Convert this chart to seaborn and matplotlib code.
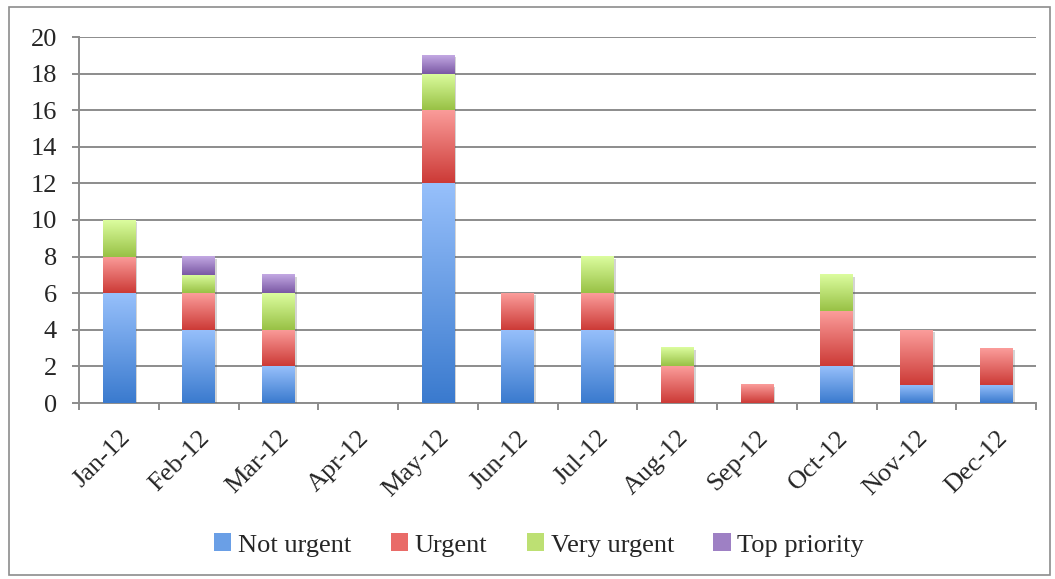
import numpy as np
import pandas as pd
import matplotlib
matplotlib.use("Agg")
import matplotlib.pyplot as plt
import seaborn as sns
from matplotlib.colors import LinearSegmentedColormap
from matplotlib.patches import Rectangle, Patch
import matplotlib.patheffects as pe

months = ["Jan-12", "Feb-12", "Mar-12", "Apr-12", "May-12", "Jun-12",
          "Jul-12", "Aug-12", "Sep-12", "Oct-12", "Nov-12", "Dec-12"]
not_urgent = [6, 4, 2, 0, 12, 4, 4, 0, 0, 2, 1, 1]
urgent = [2, 2, 2, 0, 4, 2, 2, 2, 1, 3, 3, 2]
very_urgent = [2, 1, 2, 0, 2, 0, 2, 1, 0, 2, 0, 0]
top_priority = [0, 1, 1, 0, 1, 0, 0, 0, 0, 0, 0, 0]
series_names = ["Not urgent", "Urgent", "Very urgent", "Top priority"]
y_ticks = [0, 2, 4, 6, 8, 10, 12, 14, 16, 18, 20]

series = [not_urgent, urgent, very_urgent, top_priority]
grads = [("#97c0fb", "#3a7ace"), ("#fb9d9b", "#cc3a36"),
         ("#dcfd9f", "#98c145"), ("#c3a9e3", "#7a58a4")]
legend_cols = ["#6a9fe6", "#e96b68", "#bde073", "#9e80c4"]

sns.set_theme(style="white")
plt.rcParams['font.family'] = ['Liberation Serif', 'DejaVu Serif']

fig = plt.figure(figsize=(10.55, 5.79), dpi=100)
ax = fig.add_axes([79 / 1055, 1 - 403 / 579, (1036 - 79) / 1055, (403 - 37) / 579])

bottom = np.zeros(len(months))
for name, vals, (c_top, c_bot) in zip(series_names, series, grads):
    vals = np.array(vals, dtype=float)
    n_before = len(ax.patches)
    sns.barplot(x=months, y=vals, bottom=bottom, color="white", width=0.41,
                ax=ax, saturation=1, zorder=3, linewidth=0)
    new_patches = ax.patches[n_before:]
    cmap = LinearSegmentedColormap.from_list(name, [c_bot, c_top])
    for p, v, b in zip(new_patches, vals, bottom):
        if v <= 0:
            p.set_visible(False)
            continue
        p.set_path_effects([pe.SimplePatchShadow(offset=(1.5, -1.5), alpha=0.25, shadow_rgbFace="#555555"), pe.Normal()])
        x0 = p.get_x()
        w = p.get_width()
        grad = np.linspace(0, 1, 256).reshape(-1, 1)
        ax.imshow(grad, extent=[x0, x0 + w, b, b + v], origin="lower",
                  aspect="auto", cmap=cmap, zorder=4, interpolation="bilinear")
    bottom = bottom + vals

ax.set_xlim(-0.5, len(months) - 0.5)
ax.set_ylim(0, 20)
ax.set_yticks(y_ticks)
ax.set_yticklabels([str(t) for t in y_ticks])
ax.yaxis.grid(True, color="#8c8c8c", linewidth=1.4, zorder=0)
ax.xaxis.grid(False)
ax.set_axisbelow(True)

ax.set_xticks(range(len(months)))
ax.set_xticklabels(months, rotation=45, ha="right", va="top", rotation_mode="anchor")
ax.set_xticks(np.arange(-0.5, len(months), 1.0), minor=True)
ax.tick_params(axis="x", which="major", length=0, pad=17, labelsize=19)
ax.tick_params(axis="x", which="minor", length=5, width=1.4, color="#8c8c8c", direction="out", bottom=True)
ax.tick_params(axis="y", which="major", length=5, width=1.4, color="#8c8c8c", direction="out", left=True, pad=11, labelsize=19)

for s in ["top", "right"]:
    ax.spines[s].set_visible(False)
for s in ["left", "bottom"]:
    ax.spines[s].set_color("#8c8c8c")
    ax.spines[s].set_linewidth(1.4)
ax.set_xlabel("")
ax.set_ylabel("")

handles = [Patch(facecolor=c, edgecolor="none") for c in legend_cols]
fig.legend(handles, series_names, loc="center", bbox_to_anchor=(0.511, 1 - 545 / 579),
           ncol=4, frameon=False, fontsize=19, handlelength=0.65, handleheight=0.65,
           handletextpad=0.25, columnspacing=1.5)

fig.add_artist(Rectangle((9 / 1055, 4 / 579), (1050 - 9) / 1055, (572 - 4) / 579,
                         transform=fig.transFigure, fill=False, edgecolor="#8c8c8c",
                         linewidth=1.2))

fig.savefig("out.png", dpi=100)
